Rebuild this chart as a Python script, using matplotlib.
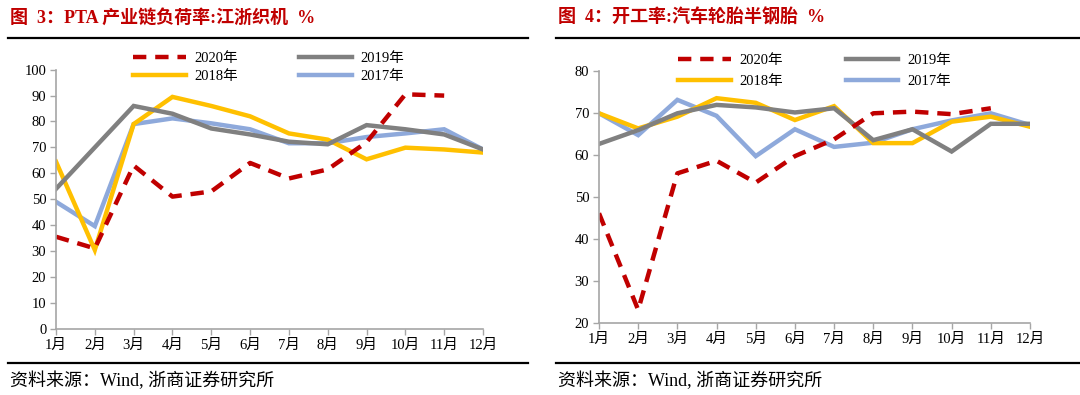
import matplotlib.pyplot as plt
from matplotlib.lines import Line2D

plt.rcParams['font.family'] = ['Liberation Serif', 'Noto Sans CJK SC']

months = ['1月', '2月', '3月', '4月', '5月', '6月', '7月', '8月', '9月', '10月', '11月', '12月']
x = list(range(1, 13))

# figure 3: PTA chain load, Jiangsu-Zhejiang looms
pta_2020 = [35.5, 31, 63, 51, 53, 64, 58, 61.5, 72, 90.5, 90]
pta_2019 = [54, 70, 86, 83, 77.3, 75, 72.2, 71.2, 78.6, 77, 75, 69.2]
pta_2018 = [64.5, 30.4, 79, 89.5, 86, 82, 75.4, 73, 65.4, 69.9, 69.2, 68]
pta_2017 = [49, 39.6, 79, 81.2, 79.3, 77, 71.6, 71.6, 74, 75.4, 77, 69.2]

# figure 4: operating rate, semi-steel tyres
tyre_2020 = [46.2, 23.2, 55.7, 58.7, 53.5, 59.8, 63.8, 70, 70.4, 69.8, 71.2]
tyre_2019 = [62.7, 66, 70, 72, 71.4, 70.2, 71.2, 63.6, 66.2, 60.9, 67.5, 67.5]
tyre_2018 = [70, 66.4, 69.2, 73.6, 72.5, 68.4, 71.7, 62.9, 62.9, 68, 69.2, 66.8]
tyre_2017 = [70, 64.8, 73.2, 69.4, 59.8, 66.2, 62, 63, 66.2, 68.3, 70, 67.2]

RED = '#C00000'
GRAY = '#808080'
YELLOW = '#FFC000'
BLUE = '#8EA9DB'
AXIS = '#A6A6A6'
LW = 3.2

W, H = 1080, 395
fig = plt.figure(figsize=(W / 100, H / 100), dpi=100)


def panel(rect, s2020, s2019, s2018, s2017, ylim, yticks, leg_anchor, leg_space, col_space):
    ax = fig.add_axes(rect)
    ax.plot(x[:len(s2017)], s2017, color=BLUE, lw=LW, solid_joinstyle='miter')
    ax.plot(x[:len(s2018)], s2018, color=YELLOW, lw=LW, solid_joinstyle='miter')
    ax.plot(x[:len(s2019)], s2019, color=GRAY, lw=LW, solid_joinstyle='miter')
    ax.plot(x[:len(s2020)], s2020, color=RED, lw=LW, ls=(0, (3, 2)))
    ax.set_xlim(1, 12)
    ax.set_ylim(*ylim)
    ax.set_yticks(yticks)
    ax.set_xticks(x)
    ax.set_xticklabels(months)
    for s in ['top', 'right']:
        ax.spines[s].set_visible(False)
    for s in ['left', 'bottom']:
        ax.spines[s].set_color(AXIS)
        ax.spines[s].set_linewidth(1.2)
    ax.tick_params(axis='both', colors=AXIS, labelcolor='black', labelsize=10.5,
                   length=4, width=1, direction='out', pad=3)

    handles = [
        Line2D([], [], color=RED, lw=LW, ls=(0, (3, 2))),
        Line2D([], [], color=YELLOW, lw=LW),
        Line2D([], [], color=GRAY, lw=LW),
        Line2D([], [], color=BLUE, lw=LW),
    ]
    labels = ['2020年', '2018年', '2019年', '2017年']
    fig.legend(handles, labels, ncol=2, loc='upper left', bbox_to_anchor=leg_anchor,
               frameon=False, fontsize=10.5, handlelength=3.6, handletextpad=0.6,
               columnspacing=col_space, labelspacing=leg_space, borderpad=0, borderaxespad=0)
    return ax


panel([56 / W, 1 - 328.7 / H, 427 / W, 259 / H], pta_2020, pta_2019, pta_2018, pta_2017,
      (0, 100), range(0, 101, 10), (133 / W, 1 - 52 / H), 0.3, 4.2)
panel([599 / W, 1 - 323.3 / H, 431 / W, 252 / H], tyre_2020, tyre_2019, tyre_2018, tyre_2017,
      (20, 80), range(20, 81, 10), (678 / W, 1 - 54 / H), 0.55, 4.3)

# titles
fig.text(10 / W, 1 - 18 / H, '图  3：PTA 产业链负荷率:江浙织机  %', color=RED,
         fontsize=13, fontweight='bold', va='center', ha='left')
fig.text(558 / W, 1 - 18 / H, '图  4：开工率:汽车轮胎半钢胎  %', color=RED,
         fontsize=13, fontweight='bold', va='center', ha='left')

# separator rules
for x0, x1 in [(8, 528), (556, 1080)]:
    fig.add_artist(Line2D([x0 / W, x1 / W], [1 - 38 / H, 1 - 38 / H], color='black', lw=1.6))
    fig.add_artist(Line2D([x0 / W, x1 / W], [1 - 363 / H, 1 - 363 / H], color='black', lw=1.6))

# sources
fig.text(10 / W, 1 - 381 / H, '资料来源：Wind, 浙商证券研究所', fontsize=13, va='center', ha='left')
fig.text(558 / W, 1 - 381 / H, '资料来源：Wind, 浙商证券研究所', fontsize=13, va='center', ha='left')

fig.savefig('out.png', dpi=100)
